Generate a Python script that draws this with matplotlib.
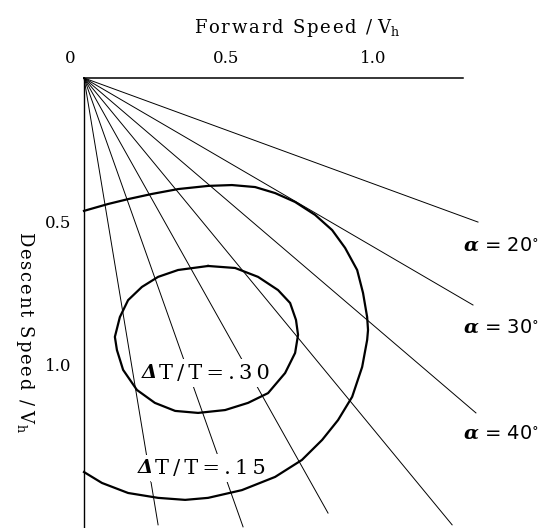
import numpy as np
import matplotlib
matplotlib.use("Agg")
import matplotlib.pyplot as plt
import matplotlib.transforms as mtransforms

plt.rcParams["font.family"] = "DejaVu Serif"
plt.rcParams["mathtext.fontset"] = "dejavuserif"

# radial constant-alpha lines, drawn from the origin to these end points
ray_end_x = [1.340, 1.323, 1.333, 1.252, 0.830, 0.541, 0.252]
ray_end_y = [0.502, 0.791, 1.167, 1.557, 1.516, 1.564, 1.557]

# Delta T / T = .15 contour (open, starts and ends on the descent axis)
c15_x = [0.0, 0.082, 0.150, 0.231, 0.320, 0.422, 0.503, 0.582, 0.650, 0.718,
         0.786, 0.844, 0.888, 0.929, 0.949, 0.963, 0.966, 0.963, 0.946, 0.912,
         0.864, 0.810, 0.741, 0.650, 0.537, 0.422, 0.344, 0.252, 0.150, 0.061,
         0.0]
c15_y = [0.463, 0.439, 0.422, 0.404, 0.387, 0.376, 0.373, 0.380, 0.401, 0.432,
         0.477, 0.530, 0.592, 0.669, 0.749, 0.833, 0.878, 0.913, 1.007, 1.111,
         1.192, 1.261, 1.331, 1.390, 1.436, 1.463, 1.470, 1.463, 1.446, 1.411,
         1.373]

# Delta T / T = .30 contour (closed)
c30_x = [0.422, 0.320, 0.252, 0.197, 0.150, 0.122, 0.105, 0.112, 0.133, 0.180,
         0.241, 0.310, 0.388, 0.480, 0.558, 0.626, 0.684, 0.718, 0.728, 0.721,
         0.701, 0.660, 0.592, 0.514, 0.422]
c30_y = [0.655, 0.669, 0.693, 0.728, 0.774, 0.833, 0.902, 0.948, 1.017, 1.087,
         1.132, 1.160, 1.167, 1.157, 1.132, 1.098, 1.028, 0.958, 0.895, 0.843,
         0.784, 0.739, 0.693, 0.662, 0.655]

contour_names = [".30", ".15"]
contour_label_x = [0.197, 0.184]
contour_label_y = [1.028, 1.359]

alpha_labels = ["20", "30", "40"]
alpha_label_y = [0.582, 0.868, 1.237]

x_ticks = [0, 0.5, 1.0]
x_tick_labels = ["0", "0.5", "1.0"]
y_ticks = [0.5, 1.0]
y_tick_labels = ["0.5", "1.0"]


def spaced(s, sep="\u2009"):
    # old typeset look: a bit of room between every letter
    return sep.join(s)


fig = plt.figure(figsize=(5.51, 5.28), dpi=100)
ax = fig.add_axes([84 / 551, 0, 379 / 551, 450 / 528])
ax.set_xlim(0, 1.289)
ax.set_ylim(1.568, 0)

for s in ["right", "bottom"]:
    ax.spines[s].set_visible(False)
ax.spines["top"].set_linewidth(1.1)
ax.spines["left"].set_linewidth(1.0)

ax.xaxis.tick_top()
ax.set_xticks(x_ticks)
ax.set_xticklabels(x_tick_labels)
ax.set_yticks(y_ticks)
ax.set_yticklabels(y_tick_labels)
ax.tick_params(axis="x", length=0, pad=8, labelsize=12)
ax.tick_params(axis="y", length=0, pad=9, labelsize=12)

# nudge the top tick labels a little to the left like the original
for i, lab in enumerate(ax.get_xticklabels()):
    dx = -14 if i == 0 else -5
    lab.set_transform(lab.get_transform() +
                      mtransforms.ScaledTranslation(dx / 100, 0, fig.dpi_scale_trans))

# radial lines
for ex, ey in zip(ray_end_x, ray_end_y):
    ax.plot([0, ex], [0, ey], color="black", lw=0.7, clip_on=False, zorder=2)

# contours (above the label boxes so they stay unbroken)
ax.plot(c15_x, c15_y, color="black", lw=1.6, clip_on=False, zorder=5)
ax.plot(c30_x, c30_y, color="black", lw=1.6, clip_on=False, zorder=5)

# contour labels (white box breaks the thin lines)
box = dict(facecolor="white", edgecolor="none", pad=3)
for name, lx, ly in zip(contour_names, contour_label_x, contour_label_y):
    ax.annotate("\u0394", (lx, ly), xytext=(0, 0), textcoords="offset points",
                fontsize=14, style="italic", weight="bold",
                ha="left", va="center", zorder=4, bbox=box)
    ax.annotate(spaced("T/T=" + name), (lx, ly), xytext=(12.5, 0),
                textcoords="offset points", fontsize=15,
                ha="left", va="center", zorder=4, bbox=box)

for lab, ly in zip(alpha_labels, alpha_label_y):
    ax.text(1.289, ly, r"$\boldsymbol{\alpha}$ = " + lab + r"$^{\circ}$",
            fontsize=14, ha="left", va="center", family="DejaVu Sans")

fig.text(297 / 551, 1 - 28 / 528, spaced("Forward Speed /", "\u200a") + r" V$_{\rm h}$",
         fontsize=13, ha="center", va="center")
fig.text(25 / 551, 1 - 332 / 528, spaced("Descent Speed /", "\u200a") + r" V$_{\rm h}$",
         fontsize=13, ha="center", va="center", rotation=270)

fig.savefig("out.png", dpi=100)
